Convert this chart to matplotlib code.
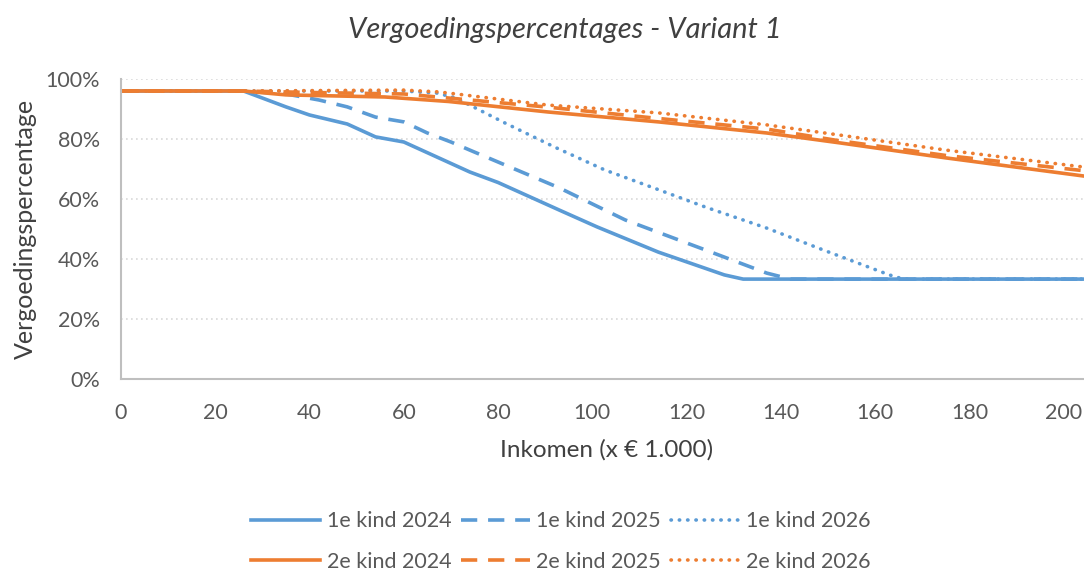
import matplotlib.pyplot as plt
from matplotlib.ticker import PercentFormatter

plt.rcParams['font.family'] = ['Lato', 'DejaVu Sans']

# 1e kind
x_k1_2024 = [0, 26, 35, 40, 48, 54, 60, 67, 74, 80, 93, 101, 114, 128, 132, 205]
y_k1_2024 = [96, 96, 90.7, 88, 85, 80.7, 79, 74, 69, 65.5, 56.3, 50.7, 42.3, 34.7, 33.3, 33.3]

x_k1_2025 = [0, 26, 35, 42, 48, 54, 60, 65, 70, 74, 93, 107, 124, 137, 142, 205]
y_k1_2025 = [96, 96, 95, 93, 90.7, 87.3, 85.7, 82, 79, 76.3, 63.7, 53, 43, 35.3, 33.3, 33.3]

x_k1_2026 = [0, 26, 60, 67, 71, 81.5, 92, 102.6, 113, 124, 137, 149, 163, 166, 205]
y_k1_2026 = [96, 96, 96, 95.3, 93.7, 85.3, 77.3, 69.7, 63.7, 57.3, 50.3, 43, 34.7, 33.3, 33.3]

# 2e kind
x_k2_2024 = [0, 26, 35, 56, 69.5, 90.6, 114, 137, 152.5, 175, 205]
y_k2_2024 = [96, 96, 94.7, 94, 92.5, 89, 85.7, 82, 78.7, 73.7, 67.5]

x_k2_2025 = [0, 26, 40, 60, 72, 90, 113, 137, 152, 175, 205]
y_k2_2025 = [96, 96, 95.5, 95, 93.3, 90.7, 87, 83.3, 79.5, 74.5, 69.3]

x_k2_2026 = [0, 26, 60, 67.4, 90.6, 114, 137, 152.5, 175, 205]
y_k2_2026 = [96, 96, 96.3, 95.7, 91.3, 88.7, 84.7, 81.3, 76.3, 70.5]

blue = '#5B9BD5'
orange = '#ED7D31'
grey = '#595959'
dash = (0, (4.5, 3))
dot = (0, (0.1, 2.2))

fig = plt.figure(figsize=(10.84, 5.74), dpi=100)
ax = fig.add_axes([0.1116, 0.3397, 0.8884, 0.5227])

lw = 2.6
l1, = ax.plot(x_k1_2024, y_k1_2024, color=blue, lw=lw, label='1e kind 2024')
l2, = ax.plot(x_k1_2025, y_k1_2025, color=blue, lw=lw, ls=dash, label='1e kind 2025')
l3, = ax.plot(x_k1_2026, y_k1_2026, color=blue, lw=lw, ls=dot, dash_capstyle='round', label='1e kind 2026')
l4, = ax.plot(x_k2_2024, y_k2_2024, color=orange, lw=lw, label='2e kind 2024')
l5, = ax.plot(x_k2_2025, y_k2_2025, color=orange, lw=lw, ls=dash, label='2e kind 2025')
l6, = ax.plot(x_k2_2026, y_k2_2026, color=orange, lw=lw, ls=dot, dash_capstyle='round', label='2e kind 2026')

ax.set_xlim(0, 204.3)
ax.set_ylim(0, 100)
ax.set_xticks(range(0, 201, 20))
ax.set_yticks(range(0, 101, 20))
ax.yaxis.set_major_formatter(PercentFormatter(decimals=0))
ax.grid(axis='y', color='#D9D9D9', ls=(0, (1, 2)), lw=1.2)
ax.set_axisbelow(True)
ax.tick_params(length=0, labelsize=15.5, colors=grey)
ax.tick_params(axis='x', pad=17)
ax.tick_params(axis='y', pad=15)
for s in ['top', 'right']:
    ax.spines[s].set_visible(False)
for s in ['left', 'bottom']:
    ax.spines[s].set_color('#BFBFBF')
    ax.spines[s].set_linewidth(1.5)

fig.text(565 / 1084, 1 - 30 / 574, 'Vergoedingspercentages - Variant 1', fontsize=21,
         style='italic', color='#404040', ha='center', va='center')
fig.text(607 / 1084, 1 - 450 / 574, 'Inkomen (x € 1.000)', fontsize=17.5,
         color='#404040', ha='center', va='center')
fig.text(25 / 1084, 1 - 229 / 574, 'Vergoedingspercentage', fontsize=18,
         color='#404040', ha='center', va='center', rotation=90)

# volgorde zodat rijen 1e kind / 2e kind worden
handles = [l1, l4, l2, l5, l3, l6]
fig.legend(handles=handles, labels=[h.get_label() for h in handles],
           loc='center', bbox_to_anchor=(0.5175, 0.0566), ncol=3, frameon=False,
           fontsize=15.5, labelcolor=grey, handlelength=3.2, handletextpad=0.3,
           columnspacing=0.45, labelspacing=0.95)

fig.savefig('out.png', dpi=100)
